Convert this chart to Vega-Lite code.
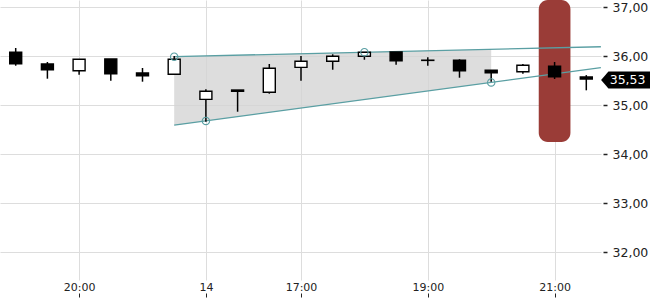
{
  "$schema": "https://vega.github.io/schema/vega-lite/v6.json",
  "width": 601,
  "height": 280,
  "autosize": {"type": "none"},
  "padding": {"left": 0, "top": 0, "right": 49, "bottom": 20},
  "background": "white",
  "config": {"view": {"stroke": null}, "font": "DejaVu Sans"},
  "datasets": {
    "candles": [
      {"i": 0, "o": 36.076, "h": 36.163, "l": 35.802, "c": 35.843},
      {"i": 1, "o": 35.837, "h": 35.878, "l": 35.537, "c": 35.72},
      {"i": 2, "o": 35.7, "h": 35.933, "l": 35.618, "c": 35.933},
      {"i": 3, "o": 35.939, "h": 35.939, "l": 35.496, "c": 35.639},
      {"i": 4, "o": 35.653, "h": 35.755, "l": 35.476, "c": 35.598},
      {"i": 5, "o": 35.627, "h": 36.0, "l": 35.627, "c": 35.933},
      {"i": 6, "o": 35.116, "h": 35.32, "l": 34.659, "c": 35.28},
      {"i": 7, "o": 35.306, "h": 35.306, "l": 34.863, "c": 35.28},
      {"i": 8, "o": 35.259, "h": 35.837, "l": 35.231, "c": 35.749},
      {"i": 9, "o": 35.769, "h": 36.0, "l": 35.496, "c": 35.892},
      {"i": 10, "o": 35.892, "h": 36.035, "l": 35.72, "c": 35.994},
      {"i": 11, "o": 35.994, "h": 36.08, "l": 35.924, "c": 36.076},
      {"i": 12, "o": 36.082, "h": 36.082, "l": 35.823, "c": 35.904},
      {"i": 13, "o": 35.915, "h": 35.973, "l": 35.802, "c": 35.91},
      {"i": 14, "o": 35.912, "h": 35.933, "l": 35.557, "c": 35.7},
      {"i": 15, "o": 35.708, "h": 35.708, "l": 35.476, "c": 35.659},
      {"i": 16, "o": 35.68, "h": 35.837, "l": 35.639, "c": 35.81},
      {"i": 17, "o": 35.79, "h": 35.878, "l": 35.531, "c": 35.578},
      {"i": 18, "o": 35.571, "h": 35.61, "l": 35.3, "c": 35.531}
    ],
    "lines": [
      {"line": "upper", "i": 5, "v": 35.987},
      {"line": "upper", "i": 18.46, "v": 36.189},
      {"line": "lower", "i": 5, "v": 34.588},
      {"line": "lower", "i": 18.46, "v": 35.763}
    ],
    "band": [
      {"i": 5, "top": 35.987, "bot": 34.588},
      {"i": 15, "top": 36.137, "bot": 35.461}
    ],
    "pivots": [
      {"i": 5, "v": 35.987},
      {"i": 6, "v": 34.675},
      {"i": 11, "v": 36.077},
      {"i": 15, "v": 35.461}
    ],
    "highlight": [{"i1": 16.5, "i2": 17.5, "v1": 37.143, "v2": 34.245}],
    "tag": [{"i": 19.24, "v": 35.53, "label": "35,53"}]
  },
  "layer": [
    {
      "data": {"name": "highlight"},
      "mark": {"type": "rect", "color": "#9a3c37", "cornerRadius": 9},
      "encoding": {
        "x": {"field": "i1", "type": "quantitative",
          "scale": {"domain": [-0.4953, 18.464], "nice": false, "zero": false, "padding": 0},
          "axis": {
            "values": [2, 6, 9, 13, 17],
            "labelExpr": "datum.value == 2 ? '20:00' : datum.value == 6 ? '14' : datum.value == 9 ? '17:00' : datum.value == 13 ? '19:00' : '21:00'",
            "title": null, "domain": false, "grid": true, "gridColor": "#dddddd", "gridWidth": 1,
            "offset": 13, "tickSize": 4, "tickColor": "#222222", "labelPadding": -16,
            "labelFontSize": 11, "labelColor": "#222222", "labelFont": "DejaVu Sans"
          }},
        "x2": {"field": "i2"},
        "y": {"field": "v1", "type": "quantitative",
          "scale": {"domain": [31.429, 37.143], "nice": false, "zero": false, "padding": 0},
          "axis": {
            "orient": "right", "values": [32, 33, 34, 35, 36, 37],
            "labelExpr": "replace(format(datum.value, '.2f'), '.', ',')",
            "title": null, "domain": false, "grid": true, "gridColor": "#dddddd", "gridWidth": 1,
            "offset": 2, "tickSize": 4, "tickColor": "#222222", "tickWidth": 1.5, "labelPadding": 5,
            "labelFontSize": 12.5, "labelColor": "#222222", "labelFont": "DejaVu Sans"
          }},
        "y2": {"field": "v2"}
      }
    },
    {
      "data": {"name": "band"},
      "mark": {"type": "area", "color": "#d4d4d4", "opacity": 0.8},
      "encoding": {
        "x": {"field": "i", "type": "quantitative"},
        "y": {"field": "top", "type": "quantitative"},
        "y2": {"field": "bot"}
      }
    },
    {
      "data": {"name": "lines"},
      "mark": {"type": "line", "color": "#5a9fa3", "strokeWidth": 1.3},
      "encoding": {
        "x": {"field": "i", "type": "quantitative"},
        "y": {"field": "v", "type": "quantitative"},
        "detail": {"field": "line"}
      }
    },
    {
      "data": {"name": "candles"},
      "mark": {"type": "rule", "color": "black", "strokeWidth": 1.5},
      "encoding": {
        "x": {"field": "i", "type": "quantitative"},
        "y": {"field": "l", "type": "quantitative"},
        "y2": {"field": "h"}
      }
    },
    {
      "data": {"name": "candles"},
      "mark": {"type": "bar", "size": 12, "stroke": "black", "strokeWidth": 1.4},
      "encoding": {
        "x": {"field": "i", "type": "quantitative"},
        "y": {"field": "o", "type": "quantitative"},
        "y2": {"field": "c"},
        "fill": {
          "condition": {"test": "datum.c >= datum.o", "value": "white"},
          "value": "black"
        }
      }
    },
    {
      "data": {"name": "pivots"},
      "mark": {"type": "point", "shape": "circle", "size": 55, "stroke": "#5a9fa3", "strokeWidth": 1.1, "filled": false, "opacity": 1},
      "encoding": {
        "x": {"field": "i", "type": "quantitative"},
        "y": {"field": "v", "type": "quantitative"}
      }
    },
    {
      "data": {"name": "tag"},
      "mark": {"type": "point", "shape": "M-1,0L-0.7,-0.35L1,-0.35L1,0.35L-0.7,0.35Z", "size": 2401, "filled": true, "color": "black", "opacity": 1, "clip": false, "yOffset": 1},
      "encoding": {
        "x": {"field": "i", "type": "quantitative"},
        "y": {"field": "v", "type": "quantitative"}
      }
    },
    {
      "data": {"name": "tag"},
      "mark": {"type": "text", "color": "white", "fontSize": 12.5, "font": "DejaVu Sans", "align": "center", "dx": 2, "dy": 1, "clip": false},
      "encoding": {
        "x": {"field": "i", "type": "quantitative"},
        "y": {"field": "v", "type": "quantitative"},
        "text": {"field": "label"}
      }
    }
  ]
}
